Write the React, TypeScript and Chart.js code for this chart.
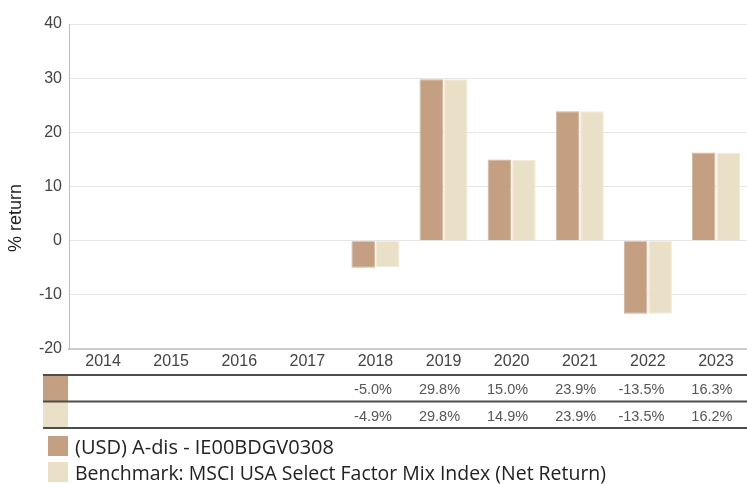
import React, { useEffect, useRef } from "react";
import { Chart, registerables } from "chart.js";

Chart.register(...registerables);

const years = ["2014", "2015", "2016", "2017", "2018", "2019", "2020", "2021", "2022", "2023"];
const fundReturns: (number | null)[] = [null, null, null, null, -5.0, 29.8, 15.0, 23.9, -13.5, 16.3];
const benchmarkReturns: (number | null)[] = [null, null, null, null, -4.9, 29.8, 14.9, 23.9, -13.5, 16.2];
const fundName = "(USD) A-dis - IE00BDGV0308";
const benchmarkName = "Benchmark: MSCI USA Select Factor Mix Index (Net Return)";
const yAxisTitle = "% return";
const yMin = -20;
const yMax = 40;
const yStep = 10;

const FUND_COLOR = "#C49F81";
const BENCH_COLOR = "#EAE0C8";
const FUND_BORDER = "#D2B398";
const BENCH_BORDER = "#F1EADA";

const overlayPlugin = {
  id: "overlay",
  afterDraw(chart: any) {
    const ctx = chart.ctx as CanvasRenderingContext2D;
    const x = chart.scales.x;
    ctx.save();
    // y axis title
    ctx.save();
    ctx.translate(16, 218);
    ctx.rotate(-Math.PI / 2);
    ctx.fillStyle = "#222";
    ctx.font = "18px 'Liberation Sans', Arial, sans-serif";
    ctx.textAlign = "center";
    ctx.textBaseline = "middle";
    ctx.fillText(yAxisTitle, 0, 0);
    ctx.restore();

    // table
    const tLeft = 43;
    const tRight = 750;
    const rowTops = [375, 401.5, 428];
    ctx.fillStyle = FUND_COLOR;
    ctx.fillRect(tLeft, rowTops[0], 25, rowTops[1] - rowTops[0]);
    ctx.fillStyle = BENCH_COLOR;
    ctx.fillRect(tLeft, rowTops[1], 25, rowTops[2] - rowTops[1]);
    ctx.strokeStyle = "#4d4d4d";
    ctx.lineWidth = 2;
    rowTops.forEach((y) => {
      ctx.beginPath();
      ctx.moveTo(tLeft, y);
      ctx.lineTo(tRight, y);
      ctx.stroke();
    });
    ctx.fillStyle = "#555";
    ctx.font = "14.5px 'Liberation Sans', Arial, sans-serif";
    ctx.textAlign = "right";
    ctx.textBaseline = "middle";
    const rows = [fundReturns, benchmarkReturns];
    const rowCenters = [389.5, 417];
    rows.forEach((vals, r) => {
      vals.forEach((v, i) => {
        if (v === null) return;
        const px = x.getPixelForValue(i);
        ctx.fillText(v.toFixed(1) + "%", px + 16.5, rowCenters[r]);
      });
    });

    // legend
    ctx.font = "20px 'Open Sans', sans-serif";
    ctx.textAlign = "left";
    ctx.textBaseline = "alphabetic";
    const items = [
      { c: FUND_COLOR, t: fundName, top: 436, base: 454, w: 265 },
      { c: BENCH_COLOR, t: benchmarkName, top: 462, base: 480, w: 531 },
    ];
    items.forEach((it) => {
      ctx.fillStyle = it.c;
      ctx.fillRect(48, it.top, 20, 20);
      ctx.fillStyle = "#222";
      ctx.fillText(it.t, 75, it.base, it.w);
    });
    ctx.restore();
  },
};

export default function App() {
  const ref = useRef<HTMLCanvasElement>(null);
  useEffect(() => {
    if (!ref.current) return;
    const chart = new Chart(ref.current, {
      type: "bar",
      data: {
        labels: years,
        datasets: [
          {
            label: fundName,
            data: fundReturns,
            backgroundColor: FUND_COLOR,
            borderColor: FUND_BORDER,
            borderWidth: 1,
            barPercentage: 0.96,
            categoryPercentage: 0.72,
          },
          {
            label: benchmarkName,
            data: benchmarkReturns,
            backgroundColor: BENCH_COLOR,
            borderColor: BENCH_BORDER,
            borderWidth: 1,
            barPercentage: 0.96,
            categoryPercentage: 0.72,
          },
        ],
      },
      options: {
        animation: false,
        responsive: false,
        devicePixelRatio: 1,
        layout: { padding: { top: 24, left: 0, right: 0, bottom: 0 } },
        plugins: { legend: { display: false }, tooltip: { enabled: false } },
        scales: {
          x: {
            grid: { display: false, drawTicks: false },
            border: { display: true, color: "#cccccc", width: 2 },
            ticks: {
              color: "#444",
              font: { family: "'Liberation Sans', Arial, sans-serif", size: 16 },
              padding: 3,
              maxRotation: 0,
              autoSkip: false,
            },
            afterFit: (s: any) => {
              s.height = 135;
            },
          },
          y: {
            min: yMin,
            max: yMax,
            ticks: {
              stepSize: yStep,
              color: "#444",
              font: { family: "'Liberation Sans', Arial, sans-serif", size: 16 },
              padding: 7,
            },
            grid: { color: "#e6e6e6", drawTicks: false, lineWidth: 1 },
            border: { display: true, color: "#bbbbbb", width: 1 },
            afterFit: (s: any) => {
              s.width = 69;
            },
          },
        },
      },
      plugins: [overlayPlugin],
    });
    return () => chart.destroy();
  }, []);
  return (
    <div style={{ position: "absolute", left: 0, top: 0, width: 747, height: 484, overflow: "hidden", background: "#fff" }}>
      <canvas ref={ref} width={750} height={484} style={{ display: "block" }} />
    </div>
  );
}
